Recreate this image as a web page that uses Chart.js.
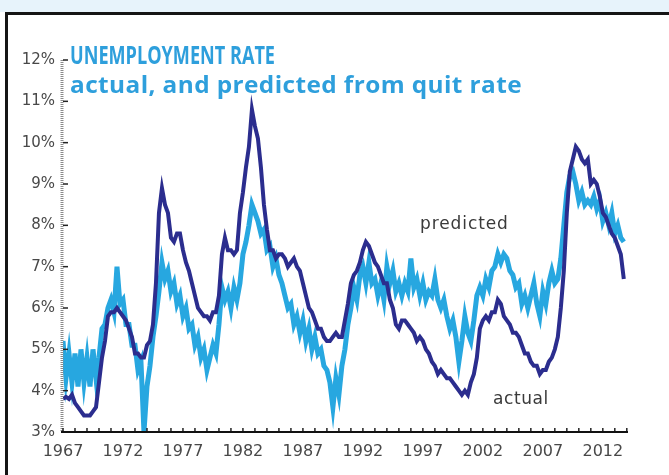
<!DOCTYPE html>
<html>
<head>
<meta charset="utf-8">
<script src="https://cdn.jsdelivr.net/npm/chart.js@4.4.1/dist/chart.umd.min.js"></script>
<style>
  body { margin: 0; width: 669px; height: 475px; overflow: hidden; background: #fff; position: relative; }
  .band { position: absolute; left: 0; top: 0; width: 669px; height: 12px; background: #e7f3fb; }
  .topline { position: absolute; left: 5px; top: 12px; width: 664px; height: 3px; background: #151515; }
  .leftline { position: absolute; left: 5px; top: 12px; width: 3px; height: 463px; background: #151515; }
  #wrap { position: absolute; left: 0; top: 0; width: 669px; height: 475px; }
  .title { position: absolute; left: 70px; color: #2e9fdc; font-family: 'Open Sans', sans-serif; font-weight: 700; white-space: nowrap; line-height: 1; transform-origin: 0 0; }
  .note { position: absolute; color: #3a3a3a; font-family: 'DejaVu Sans', sans-serif; font-size: 17px; white-space: nowrap; line-height: 1; }
</style>
</head>
<body>
<div class="band"></div>
<div id="wrap"><canvas id="chart" width="669" height="475"></canvas></div>
<div class="topline"></div>
<div class="leftline"></div>
<div class="title" id="t1" style="top:42px; font-size:25px">UNEMPLOYMENT RATE</div>
<div class="title" id="t2" style="top:72px; font-size:24px; letter-spacing:0.4px">actual, and predicted from quit rate</div>
<div class="note" style="left:420px; top:215px; letter-spacing:0.9px">predicted</div>
<div class="note" style="left:493px; top:390px; letter-spacing:0.6px">actual</div>
<script>
// one entry per year, four quarters each
const years = [1967,1968,1969,1970,1971,1972,1973,1974,1975,1976,1977,1978,1979,1980,1981,1982,
  1983,1984,1985,1986,1987,1988,1989,1990,1991,1992,1993,1994,1995,1996,1997,1998,1999,2000,
  2001,2002,2003,2004,2005,2006,2007,2008,2009,2010,2011,2012,2013];

const actual = [
  3.8,3.85,3.8,3.9,  3.7,3.6,3.5,3.4,  3.4,3.4,3.5,3.6,  4.2,4.8,5.2,5.8,
  5.9,5.9,6.0,5.9,  5.8,5.7,5.5,5.3,  4.9,4.9,4.8,4.8,  5.1,5.2,5.6,6.6,
  8.3,8.9,8.5,8.3,  7.7,7.6,7.8,7.8,  7.4,7.1,6.9,6.6,  6.3,6.0,5.9,5.8,
  5.8,5.7,5.9,5.9,  6.3,7.3,7.7,7.4,  7.4,7.3,7.4,8.3,  8.8,9.4,9.9,10.8,
  10.4,10.1,9.4,8.5,  7.9,7.4,7.4,7.2,  7.3,7.3,7.2,7.0,  7.1,7.2,7.0,6.9,
  6.6,6.3,6.0,5.9,  5.7,5.5,5.5,5.3,  5.2,5.2,5.3,5.4,  5.3,5.3,5.7,6.1,
  6.6,6.8,6.9,7.1,  7.4,7.6,7.5,7.3,  7.1,7.0,6.8,6.6,  6.6,6.2,6.0,5.6,
  5.5,5.7,5.7,5.6,  5.5,5.4,5.2,5.3,  5.2,5.0,4.9,4.7,  4.6,4.4,4.5,4.4,
  4.3,4.3,4.2,4.1,  4.0,3.9,4.0,3.9,  4.2,4.4,4.8,5.5,  5.7,5.8,5.7,5.9,
  5.9,6.2,6.1,5.8,  5.7,5.6,5.4,5.4,  5.3,5.1,4.9,4.9,  4.7,4.6,4.6,4.4,
  4.5,4.5,4.7,4.8,  5.0,5.3,6.0,6.9,  8.3,9.3,9.6,9.9,  9.8,9.6,9.5,9.6,
  9.0,9.1,9.0,8.7,  8.3,8.2,8.0,7.8,  7.7,7.5,7.3,6.7
];

const predicted = [
  5.2,4.3,4.9,4.2,  4.9,4.1,5.0,4.2,  4.8,4.1,5.0,4.3,  4.8,5.5,5.6,6.0,
  6.2,5.9,7.0,6.1,  6.2,5.6,5.6,5.1,  5.1,4.5,4.7,3.0,  4.1,4.6,5.3,5.8,
  6.4,7.1,6.7,6.9,  6.4,6.6,6.1,6.3,  5.8,6.0,5.5,5.6,  5.1,5.3,4.8,5.0,
  4.5,4.8,5.1,4.9,  5.6,6.5,6.2,6.4,  6.0,6.5,6.2,6.6,  7.3,7.6,8.0,8.5,
  8.3,8.1,7.8,7.9,  7.4,7.5,7.0,7.2,  6.8,6.6,6.3,6.0,  6.1,5.6,5.8,5.4,
  5.7,5.2,5.5,5.0,  5.3,4.9,5.0,4.6,  4.5,4.2,3.6,4.3,  3.9,4.6,5.0,5.6,
  6.0,6.5,6.2,6.8,  7.0,6.6,7.1,6.6,  6.7,6.3,6.6,6.2,  7.0,6.6,6.9,6.4,
  6.6,6.3,6.6,6.4,  7.2,6.5,6.7,6.3,  6.6,6.2,6.4,6.3,  6.7,6.2,6.0,6.2,
  5.8,5.5,5.7,5.3,  4.7,5.2,5.8,5.4,  5.2,5.7,6.3,6.5,  6.3,6.7,6.5,6.9,
  7.0,7.3,7.1,7.3,  7.2,6.9,6.8,6.5,  6.6,6.1,6.3,6.0,  6.3,6.6,6.1,5.8,
  6.4,6.1,6.6,6.9,  6.6,6.7,7.2,8.0,  8.8,9.2,9.3,9.0,  8.6,8.8,8.5,8.6,
  8.5,8.7,8.4,8.6,  8.1,8.3,8.0,8.3,  7.8,8.0,7.7,7.6
];

const xLabelYears = [1967,1972,1977,1982,1987,1992,1997,2002,2007,2012];
const yTicks = [3,4,5,6,7,8,9,10,11,12];

const quarters = [];
years.forEach(y => [0, 0.25, 0.5, 0.75].forEach(q => quarters.push(y + q)));

// squeeze / stretch the two title lines to the widths seen in the original
function fitWidth(id, w) {
    const el = document.getElementById(id);
    el.style.transform = 'scaleX(' + (w / el.getBoundingClientRect().width) + ')';
}
fitWidth('t1', 205);
fitWidth('t2', 452);

// small tick marks pointing into the plot, plus the two axis lines
const axisMarks = {
    id: 'axisMarks',
    afterDatasetsDraw(chart) {
        const {ctx, chartArea: a, scales: {x, y}} = chart;
        ctx.save();
        ctx.strokeStyle = '#8a8a8a';
        ctx.lineWidth = 3;
        ctx.setLineDash([1, 1]);
        ctx.beginPath(); ctx.moveTo(a.left - 1, a.top); ctx.lineTo(a.left - 1, a.bottom); ctx.stroke();
        ctx.setLineDash([]);
        ctx.strokeStyle = '#222';
        ctx.lineWidth = 1.5;
        yTicks.forEach(v => {
            const py = y.getPixelForValue(v);
            ctx.beginPath(); ctx.moveTo(a.left, py); ctx.lineTo(a.left + 5, py); ctx.stroke();
        });
        for (let yr = years[0]; yr <= 2014; yr++) {
            const px = x.getPixelForValue(yr);
            ctx.beginPath(); ctx.moveTo(px, a.bottom); ctx.lineTo(px, a.bottom - 4); ctx.stroke();
        }
        ctx.lineWidth = 2;
        ctx.strokeStyle = '#111';
        ctx.beginPath(); ctx.moveTo(a.left - 2, a.bottom); ctx.lineTo(a.right, a.bottom); ctx.stroke();
        ctx.restore();
    }
};

new Chart(document.getElementById('chart'), {
    type: 'line',
    data: {
        labels: quarters,
        datasets: [
            { label: 'actual', data: actual, borderColor: '#2b2d8e', borderWidth: 4, pointRadius: 0, tension: 0 },
            { label: 'predicted', data: predicted, borderColor: '#27a7e0', borderWidth: 5, pointRadius: 0, tension: 0 }
        ]
    },
    options: {
        responsive: false,
        animation: false,
        layout: { padding: { top: 60, right: 41, left: 0, bottom: 0 } },
        plugins: { legend: { display: false }, tooltip: { enabled: false } },
        scales: {
            x: {
                type: 'linear', min: 1967, max: 2014.1,
                afterFit: s => { s.height = 43; },
                grid: { display: false, drawTicks: false },
                border: { display: false },
                ticks: {
                    stepSize: 1, autoSkip: false, maxRotation: 0, includeBounds: false, padding: 10,
                    color: '#484848', font: { family: 'DejaVu Sans', size: 16 },
                    callback: v => xLabelYears.includes(v) ? String(v) : ''
                }
            },
            y: {
                min: 3, max: 12,
                afterFit: s => { s.width = 63; },
                grid: { display: false, drawTicks: false },
                border: { display: false },
                ticks: {
                    stepSize: 1, padding: 8,
                    color: '#484848', font: { family: 'DejaVu Sans', size: 15 },
                    callback: v => v + '%'
                }
            }
        }
    },
    plugins: [axisMarks]
});
</script>
</body>
</html>
